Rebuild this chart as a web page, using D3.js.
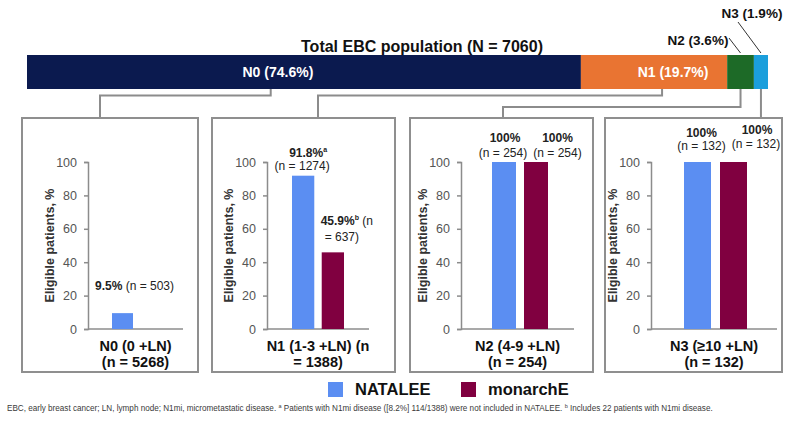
<!DOCTYPE html>
<html><head><meta charset="utf-8">
<script src="https://cdn.jsdelivr.net/npm/d3@7"></script>
<style>body{margin:0;background:#fff;} svg{display:block;font-family:"Liberation Sans",Arial,Helvetica,sans-serif;}</style>
</head><body><svg id="c" width="800" height="423"></svg>
<script>
// ---------- data ----------
const segmentNames = ["N0", "N1", "N2", "N3"];
const segmentPct = [74.6, 19.7, 3.6, 1.9];
const titleText = "Total EBC population (N = 7060)";
const series = ["NATALEE", "monarchE"];
const panelLine1 = ["N0 (0 +LN)", "N1 (1-3 +LN) (n", "N2 (4-9 +LN)", "N3 (≥10 +LN)"];
const panelLine2 = ["(n = 5268)", "= 1388)", "(n = 254)", "(n = 132)"];
const nataleeValues = [9.5, 91.8, 100, 100];
const monarchEValues = [null, 45.9, 100, 100];
const nataleeN = [503, 1274, 254, 132];
const monarchEN = [null, 637, 254, 132];
const nataleeSup = ["", "a", "", ""];
const monarchESup = ["", "b", "", ""];
const yTicks = [0, 20, 40, 60, 80, 100];
const yLabel = "Eligible patients, %";
const footParts = [
  ["EBC, early breast cancer; LN, lymph node; N1mi, micrometastatic disease. ", false],
  ["a", true],
  [" Patients with N1mi disease ([8.2%] 114/1388) were not included in NATALEE. ", false],
  ["b", true],
  [" Includes 22 patients with N1mi disease.", false]
];

// ---------- styles / layout ----------
const segColors = ["#0b1a4f", "#e97432", "#1d6a27", "#1b9fdc"];
const seriesColors = { NATALEE: "#5b8ef2", monarchE: "#800040" };
const lineGray = "#8c8c8c";
const panelLayout = [
  { box: [22, 198], axisX: 88, axisEnd: 183, bars: [112, 161], connX: 100 },
  { box: [212, 395], axisX: 267, axisEnd: 369, bars: [292, 344], connX: 318 },
  { box: [410, 593], axisX: 461, axisEnd: 574, bars: [492, 548], connX: 503 },
  { box: [605, 782], axisX: 651, axisEnd: 777, bars: [684, 747], connX: 761 }
];
// label placement relative to bar centre / top
const natLabelLayout = [
  { mode: "inline", dx: [12], dy: [-23] },
  { mode: "stack", dx: [5, -1], dy: [-19, -6] },
  { mode: "stack", dx: [1, -1], dy: [-20, -5] },
  { mode: "stack", dx: [4, 4], dy: [-25, -12] }
];
const monLabelLayout = [
  null,
  { mode: "wrap", dx: [14, 9], dy: [-27, -11] },
  { mode: "stack", dx: [21.5, 21.5], dy: [-20, -5] },
  { mode: "stack", dx: [23.5, 22.5], dy: [-28, -14] }
];
const connFrac = [0.44, 0.555, 0.5, 0.5];
const segLabelFrac = [0.453, 0.63];

const svg = d3.select("#c");

// ---------- top stacked bar ----------
const total = d3.sum(segmentPct);
const xTop = d3.scaleLinear().domain([0, total]).range([27, 768]);
const cum = d3.cumsum(segmentPct);
const segs = segmentNames.map((n, i) => ({ name: n, pct: segmentPct[i], x0: cum[i] - segmentPct[i], x1: cum[i], i }));
const barTop = 55, barBot = 89;

svg.append("text").attr("x", 422).attr("y", 52).attr("text-anchor", "middle")
  .attr("font-size", 16).attr("font-weight", "bold").attr("fill", "#111").text(titleText);

svg.selectAll("rect.seg").data(segs).join("rect").attr("class", "seg")
  .attr("x", d => xTop(d.x0)).attr("y", barTop)
  .attr("width", d => xTop(d.x1) - xTop(d.x0)).attr("height", barBot - barTop)
  .attr("fill", d => segColors[d.i]);

segs.slice(0, 2).forEach((d, i) => {
  svg.append("text").attr("x", xTop(d.x0 + segLabelFrac[i] * d.pct)).attr("y", 77)
    .attr("text-anchor", "middle").attr("font-size", 14).attr("font-weight", "bold")
    .attr("fill", "#fff").text(`${d.name} (${d.pct}%)`);
});
// callouts for N2, N3
const n2 = segs[2], n3 = segs[3];
svg.append("text").attr("x", 698).attr("y", 45).attr("text-anchor", "middle")
  .attr("font-size", 13.5).attr("font-weight", "bold").attr("fill", "#111").text(`${n2.name} (${n2.pct}%)`);
svg.append("line").attr("x1", 729).attr("y1", 38).attr("x2", xTop((n2.x0 + n2.x1) / 2)).attr("y2", 53)
  .attr("stroke", "#333").attr("stroke-width", 1);
svg.append("text").attr("x", 752).attr("y", 18).attr("text-anchor", "middle")
  .attr("font-size", 13.5).attr("font-weight", "bold").attr("fill", "#111").text(`${n3.name} (${n3.pct}%)`);
svg.append("line").attr("x1", 738).attr("y1", 22).attr("x2", xTop((n3.x0 + n3.x1) / 2)).attr("y2", 53)
  .attr("stroke", "#333").attr("stroke-width", 1);

// ---------- connectors ----------
const boxTop = 118, boxBot = 372;
const elbowY = [95.5, 95.5, 107, null];
segs.forEach((d, i) => {
  const sx = xTop(d.x0 + connFrac[i] * d.pct);
  const tx = panelLayout[i].connX;
  let path;
  if (elbowY[i] == null) path = `M${sx},${barBot}V${boxTop}`;
  else path = `M${sx},${barBot}V${elbowY[i]}H${tx}V${boxTop}`;
  svg.append("path").attr("d", path).attr("fill", "none").attr("stroke", lineGray).attr("stroke-width", 2);
});

// ---------- panels ----------
const y = d3.scaleLinear().domain([0, 100]).range([329, 162]);
const fmtPct = v => (v === 100 ? "100" : String(v)) + "%";

panelLayout.forEach((L, i) => {
  const g = svg.append("g");
  g.append("rect").attr("x", L.box[0]).attr("y", boxTop).attr("width", L.box[1] - L.box[0])
    .attr("height", boxBot - boxTop).attr("fill", "#fff").attr("stroke", "#8f8f8f").attr("stroke-width", 2);

  const yAxis = d3.axisLeft(y).tickValues(yTicks).tickSize(4).tickPadding(7);
  const ag = g.append("g").attr("transform", `translate(${L.axisX},0)`).call(yAxis);
  ag.select(".domain").attr("stroke", lineGray).attr("stroke-width", 1.5);
  ag.selectAll(".tick line").attr("stroke", lineGray).attr("stroke-width", 1.5);
  ag.selectAll(".tick text").attr("font-size", 12.5).attr("fill", "#555").attr("font-family", null);

  g.append("line").attr("x1", L.axisX).attr("x2", L.axisEnd).attr("y1", y(0)).attr("y2", y(0))
    .attr("stroke", lineGray).attr("stroke-width", 1.5);

  g.append("text").attr("transform", `translate(${L.axisX - 34},${(y(0) + y(100)) / 2}) rotate(-90)`)
    .attr("text-anchor", "middle").attr("font-size", 12.5).attr("font-weight", "bold").attr("fill", "#333")
    .text(yLabel);

  const xb = d3.scaleBand().domain(series).range(L.bars).paddingInner(0.25).paddingOuter(0);
  const rows = [
    { s: "NATALEE", v: nataleeValues[i], n: nataleeN[i], sup: nataleeSup[i], lay: natLabelLayout[i] },
    { s: "monarchE", v: monarchEValues[i], n: monarchEN[i], sup: monarchESup[i], lay: monLabelLayout[i] }
  ].filter(r => r.v != null);

  g.selectAll("rect.bar").data(rows).join("rect").attr("class", "bar")
    .attr("x", r => xb(r.s)).attr("width", xb.bandwidth())
    .attr("y", r => y(r.v)).attr("height", r => y(0) - y(r.v))
    .attr("fill", r => seriesColors[r.s]);

  rows.forEach(r => {
    const cx = xb(r.s) + xb.bandwidth() / 2, top = y(r.v), lay = r.lay;
    const addVal = (t) => {
      t.append("tspan").attr("font-weight", "bold").text(fmtPct(r.v));
      if (r.sup) t.append("tspan").attr("font-size", 7).attr("font-weight", "bold").attr("dy", -5).text(r.sup);
    };
    if (lay.mode === "inline") {
      const t = g.append("text").attr("x", cx + lay.dx[0]).attr("y", top + lay.dy[0]).attr("text-anchor", "middle")
        .attr("font-size", 12).attr("fill", "#222");
      addVal(t);
      t.append("tspan").text(`  (n = ${r.n})`);
    } else if (lay.mode === "stack") {
      const t = g.append("text").attr("x", cx + lay.dx[0]).attr("y", top + lay.dy[0]).attr("text-anchor", "middle")
        .attr("font-size", 12).attr("fill", "#222");
      addVal(t);
      g.append("text").attr("x", cx + lay.dx[1]).attr("y", top + lay.dy[1]).attr("text-anchor", "middle")
        .attr("font-size", 12).attr("fill", "#222").text(`(n = ${r.n})`);
    } else {
      const t = g.append("text").attr("x", cx + lay.dx[0]).attr("y", top + lay.dy[0]).attr("text-anchor", "middle")
        .attr("font-size", 12).attr("fill", "#222");
      addVal(t);
      t.append("tspan").attr("dy", r.sup ? 5 : 0).text(" (n");
      g.append("text").attr("x", cx + lay.dx[1]).attr("y", top + lay.dy[1]).attr("text-anchor", "middle")
        .attr("font-size", 12).attr("fill", "#222").text(`= ${r.n})`);
    }
  });

  const mid = (L.axisX + L.axisEnd) / 2;
  g.append("text").attr("x", mid).attr("y", 351).attr("text-anchor", "middle").attr("font-size", 14.5)
    .attr("font-weight", "bold").attr("fill", "#111").text(panelLine1[i]);
  g.append("text").attr("x", mid).attr("y", 367).attr("text-anchor", "middle").attr("font-size", 14.5)
    .attr("font-weight", "bold").attr("fill", "#111").text(panelLine2[i]);
});

// ---------- legend ----------
const legendX = [328, 461];
series.forEach((s, i) => {
  svg.append("rect").attr("x", legendX[i]).attr("y", 382).attr("width", 15).attr("height", 15).attr("fill", seriesColors[s]);
  svg.append("text").attr("x", legendX[i] + 27).attr("y", 395).attr("font-size", 16.5).attr("font-weight", "bold")
    .attr("fill", "#111").text(s);
});

// ---------- footnote ----------
const ft = svg.append("text").attr("x", 7).attr("y", 411).attr("font-size", 8.15).attr("fill", "#3a3a3a");
footParts.forEach(([txt, sup]) => {
  const ts = ft.append("tspan").text(txt);
  if (sup) ts.attr("font-size", 5.5).attr("baseline-shift", "super");
});
</script></body></html>
